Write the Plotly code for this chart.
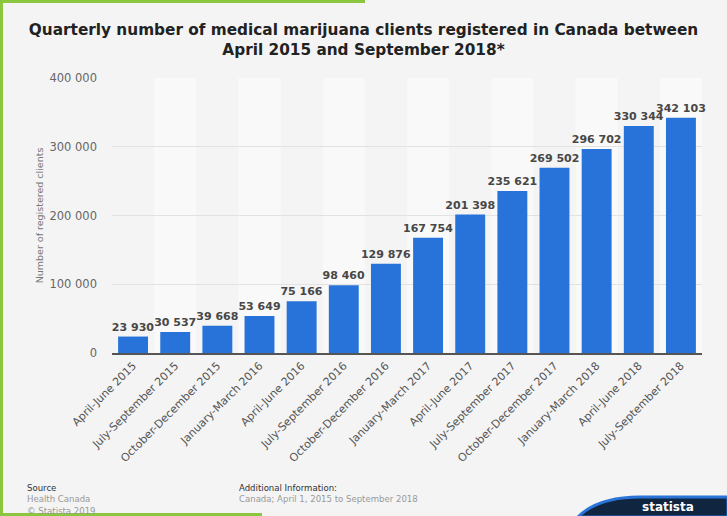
import plotly.graph_objects as go

categories = ["April-June 2015", "July-September 2015", "October-December 2015",
              "January-March 2016", "April-June 2016", "July-September 2016",
              "October-December 2016", "January-March 2017", "April-June 2017",
              "July-September 2017", "October-December 2017", "January-March 2018",
              "April-June 2018", "July-September 2018"]
clients = [23930, 30537, 39668, 53649, 75166, 98460, 129876, 167754,
           201398, 235621, 269502, 296702, 330344, 342103]
y_ticks = [0, 100000, 200000, 300000, 400000]
y_tick_labels = ["0", "100 000", "200 000", "300 000", "400 000"]

W, H = 727, 516
L, R, T, B = 112, 25, 78, 163
PW, PH = W - L - R, H - T - B


def px(x):
    return (x - L) / PW


def py(y):
    return (H - B - y) / PH


BG = "#f4f4f4"
BAR = "#2773d9"

fig = go.Figure()
fig.add_trace(go.Bar(
    x=categories, y=clients, marker_color=BAR, marker_line_width=0,
    texttemplate="<b>%{y:,}</b>", textposition="outside", constraintext="none",
    cliponaxis=False,
    textfont=dict(family="DejaVu Sans", size=11, color="#474747"),
    hoverinfo="skip"))

shapes = []
for i in range(len(categories)):
    if i % 2 == 1:
        shapes.append(dict(type="rect", xref="x", yref="paper", x0=i - 0.5, x1=i + 0.5,
                           y0=0, y1=1, fillcolor="#f9f9f9", line_width=0, layer="below"))
# green frame fragments
green = "#8cc63f"
shapes.append(dict(type="rect", xref="paper", yref="paper", x0=px(0), x1=px(3),
                   y0=py(0), y1=py(516), fillcolor=green, line_width=0))
shapes.append(dict(type="rect", xref="paper", yref="paper", x0=px(0), x1=px(365),
                   y0=py(0), y1=py(3), fillcolor=green, line_width=0))
shapes.append(dict(type="rect", xref="paper", yref="paper", x0=px(0), x1=px(262),
                   y0=py(513), y1=py(516), fillcolor=green, line_width=0))
# statista logo fragment
path = "M {},{} Q {},{} {},{} L {},{} L {},{} Z".format(
    px(578), py(517), px(598), py(497), px(640), py(497), px(728), py(497), px(728), py(517))
shapes.append(dict(type="path", xref="paper", yref="paper", path=path,
                   fillcolor="#0f2540", line=dict(color="#2a74d8", width=3)))

ann = []
foot = dict(family="DejaVu Sans Condensed, DejaVu Sans", size=9.5)
ann.append(dict(text="Source", x=px(25), y=py(487), xref="paper", yref="paper",
                xanchor="left", yanchor="middle", showarrow=False,
                font=dict(foot, color="#333333")))
ann.append(dict(text="Health Canada", x=px(25), y=py(499), xref="paper", yref="paper",
                xanchor="left", yanchor="middle", showarrow=False,
                font=dict(foot, color="#999999")))
ann.append(dict(text="© Statista 2019", x=px(25), y=py(510), xref="paper", yref="paper",
                xanchor="left", yanchor="middle", showarrow=False,
                font=dict(foot, color="#999999")))
ann.append(dict(text="Additional Information:", x=px(237), y=py(487), xref="paper", yref="paper",
                xanchor="left", yanchor="middle", showarrow=False,
                font=dict(foot, color="#333333")))
ann.append(dict(text="Canada; April 1, 2015 to September 2018", x=px(237), y=py(499),
                xref="paper", yref="paper", xanchor="left", yanchor="middle",
                showarrow=False, font=dict(foot, color="#999999")))
ann.append(dict(text="<b>statista</b>", x=px(668), y=py(507), xref="paper", yref="paper",
                xanchor="center", yanchor="middle", showarrow=False,
                font=dict(family="DejaVu Sans", size=12, color="#ffffff")))

fig.update_layout(
    width=W, height=H, margin=dict(l=L, r=R, t=T, b=B),
    paper_bgcolor=BG, plot_bgcolor=BG, separators=", ",
    bargap=0.29, showlegend=False,
    title=dict(text="<b>Quarterly number of medical marijuana clients registered in Canada between<br>April 2015 and September 2018*</b>",
               x=0.5, xanchor="center", y=1 - 35 / H, yanchor="middle",
               font=dict(family="DejaVu Sans", size=15.3, color="#222222")),
    xaxis=dict(tickangle=-45, tickfont=dict(family="DejaVu Sans", size=11, color="#555555"),
               showgrid=False, showline=True, linecolor="#555555", linewidth=2,
               ticks="", range=[-0.5, len(categories) - 0.5]),
    yaxis=dict(range=[0, 400000], tickvals=y_ticks, ticktext=y_tick_labels,
               tickfont=dict(family="DejaVu Sans", size=11.5, color="#666666"),
               gridcolor="#e2e2e2", gridwidth=1, zeroline=False, ticks="",
               ticklabelstandoff=14,
               title=dict(text="Number of registered clients", standoff=4,
                          font=dict(family="DejaVu Sans", size=9.5, color="#777777"))),
    shapes=shapes, annotations=ann,
)
fig.write_html("out.html")
